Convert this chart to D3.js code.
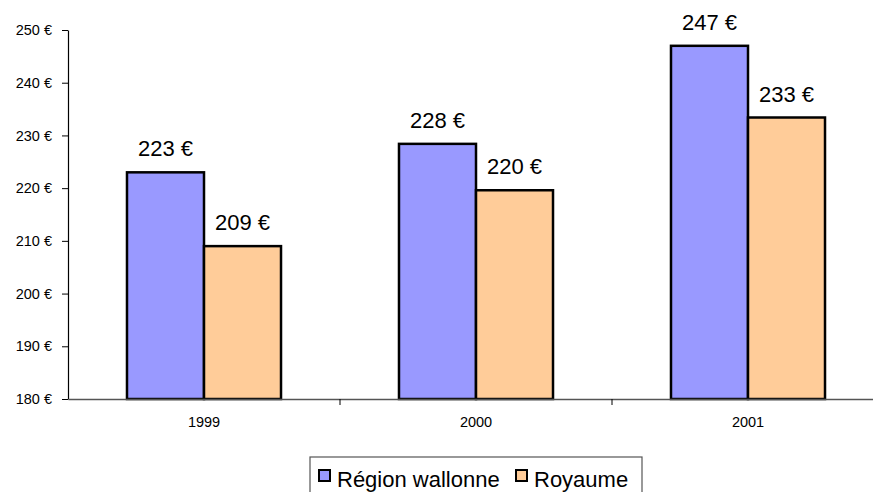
<!DOCTYPE html>
<html>
<head>
<meta charset="utf-8">
<script src="https://cdn.jsdelivr.net/npm/d3@7"></script>
<style>
  body { margin: 0; background: #fff; }
  svg { font-family: "Liberation Sans", Arial, sans-serif; }
</style>
</head>
<body>
<div id="chart"></div>
<script>
// Data
var years = ["1999", "2000", "2001"];
var series = ["Région wallonne", "Royaume"];
var wallonie = [223, 228.4, 247];
var royaume = [209, 219.6, 233.4];
var yTicks = [180, 190, 200, 210, 220, 230, 240, 250];
var colors = ["#9999ff", "#ffcc99"];

(function() {
    var W = 873, H = 492;
    var left = 68, top = 30, bottom = 399, step = 272;

    var svg = d3.select("#chart").append("svg")
        .attr("width", W).attr("height", H);

    var rows = years.map(function(y, i) {
        return { year: y, values: [wallonie[i], royaume[i]] };
    });

    var x0 = d3.scaleBand().domain(years).range([left, left + step * years.length]);
    var x1 = d3.scaleBand().domain(series).range([0, x0.bandwidth()]).paddingOuter(0.766);
    var y = d3.scaleLinear().domain([180, 250]).range([bottom, top]);

    // y axis
    var yAxis = d3.axisLeft(y).tickValues(yTicks).tickSize(6).tickSizeOuter(0)
        .tickFormat(function(d) { return d + " €"; });
    var gy = svg.append("g").attr("transform", "translate(" + left + ",0)").call(yAxis);
    gy.select(".domain").attr("stroke", "#000").attr("stroke-width", 1.2);
    gy.selectAll(".tick line").attr("stroke", "#000");
    gy.selectAll(".tick text").attr("x", -16).attr("font-size", 14.5).attr("fill", "#000")
        .style("font-family", "Liberation Sans, Arial, sans-serif");

    // bars
    var groups = svg.selectAll(".grp").data(rows).enter().append("g")
        .attr("class", "grp")
        .attr("transform", function(d) { return "translate(" + x0(d.year) + ",0)"; });

    groups.selectAll("rect").data(function(d) { return d.values; }).enter().append("rect")
        .attr("x", function(d, i) { return x1(series[i]); })
        .attr("width", x1.bandwidth())
        .attr("y", function(d) { return y(d); })
        .attr("height", function(d) { return y(180) - y(d); })
        .attr("fill", function(d, i) { return colors[i]; })
        .attr("stroke", "#000").attr("stroke-width", 2.5);

    groups.selectAll(".lbl").data(function(d) { return d.values; }).enter().append("text")
        .attr("class", "lbl")
        .attr("x", function(d, i) { return x1(series[i]) + x1.bandwidth() / 2; })
        .attr("y", function(d) { return y(d) - 16; })
        .attr("text-anchor", "middle").attr("font-size", 22).attr("fill", "#000")
        .text(function(d) { return Math.round(d) + " €"; });

    // x axis
    var xAxis = d3.axisBottom(x0).tickSize(0).tickSizeOuter(0);
    var gx = svg.append("g").attr("transform", "translate(0," + bottom + ")").call(xAxis);
    gx.select(".domain").attr("stroke", "#555").attr("stroke-width", 1.5);
    gx.selectAll(".tick text").attr("y", 18).attr("font-size", 14.5).attr("fill", "#000")
        .style("font-family", "Liberation Sans, Arial, sans-serif");
    gx.selectAll(".sep").data(years.slice(1)).enter().append("line")
        .attr("class", "sep")
        .attr("x1", function(d) { return x0(d); }).attr("x2", function(d) { return x0(d); })
        .attr("y1", 0).attr("y2", 6).attr("stroke", "#000");

    // legend
    var lg = svg.append("g").attr("transform", "translate(310,457)");
    lg.append("rect").attr("x", 0).attr("y", 0).attr("width", 332).attr("height", 40)
        .attr("fill", "#fff").attr("stroke", "#555").attr("stroke-width", 1.2);
    var offs = [9, 206];
    series.forEach(function(s, i) {
        lg.append("rect").attr("x", offs[i]).attr("y", 13).attr("width", 11).attr("height", 11)
            .attr("fill", colors[i]).attr("stroke", "#000").attr("stroke-width", 2);
        lg.append("text").attr("x", offs[i] + 18).attr("y", 30)
            .attr("font-size", 22).attr("fill", "#000").text(s);
    });
})();
</script>
</body>
</html>
